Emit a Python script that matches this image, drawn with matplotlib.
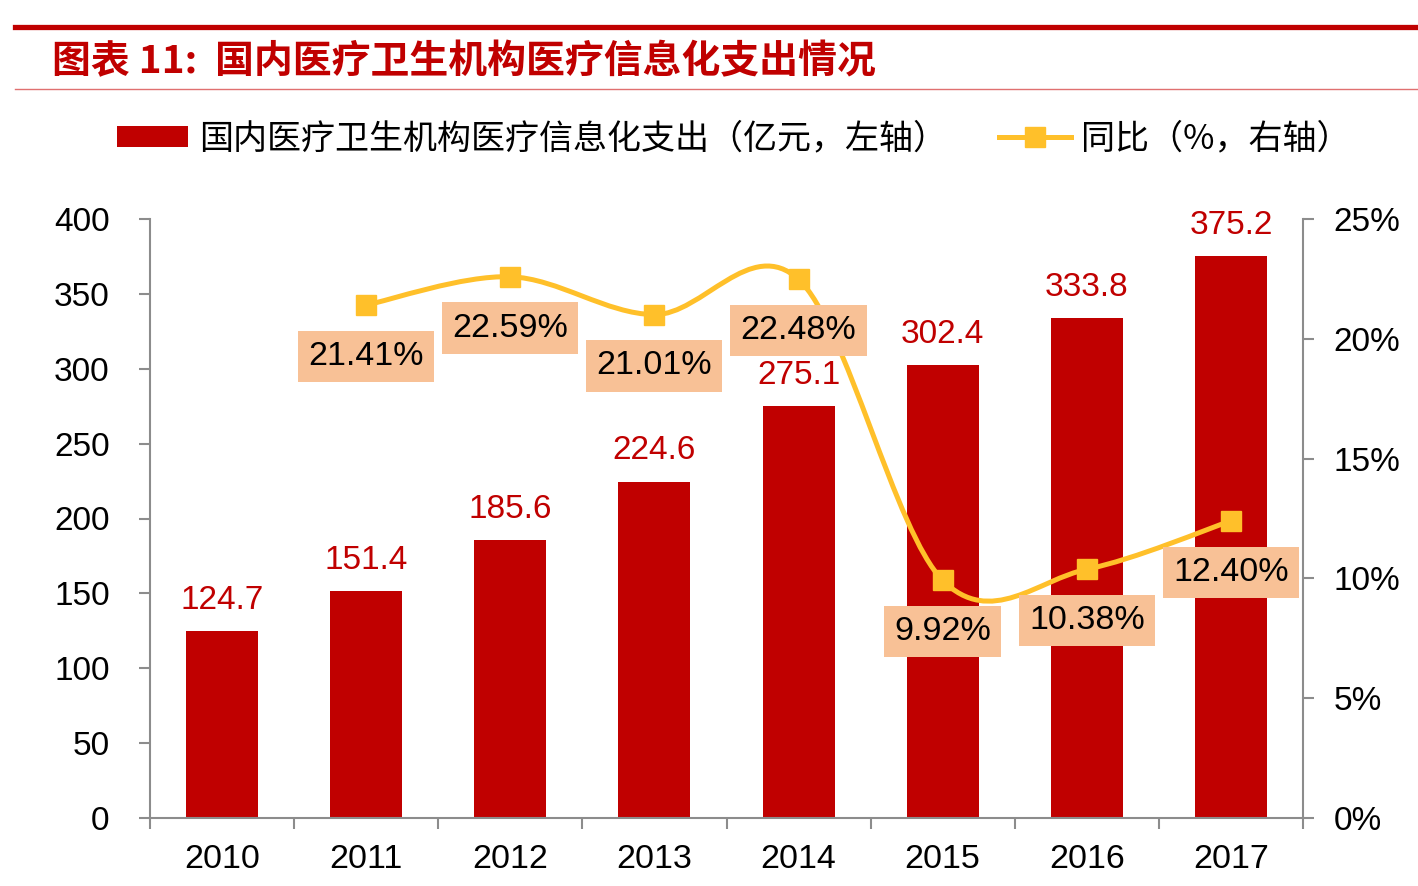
import matplotlib
matplotlib.use("Agg")
import matplotlib.pyplot as plt
from matplotlib.lines import Line2D
from matplotlib.patches import Patch, PathPatch
from matplotlib.path import Path
import numpy as np

plt.rcParams['font.family'] = ['Liberation Sans', 'Noto Sans CJK SC', 'DejaVu Sans']

# data
years = ['2010', '2011', '2012', '2013', '2014', '2015', '2016', '2017']
spend = [124.7, 151.4, 185.6, 224.6, 275.1, 302.4, 333.8, 375.2]
yoy_years = ['2011', '2012', '2013', '2014', '2015', '2016', '2017']
yoy = [21.41, 22.59, 21.01, 22.48, 9.92, 10.38, 12.40]

title = '图表 11:  国内医疗卫生机构医疗信息化支出情况'
bar_name = '国内医疗卫生机构医疗信息化支出（亿元，左轴）'
line_name = '同比（%，右轴）'

RED = '#C00000'
GOLD = '#FFC02A'
BOX = '#F8C196'
GREY = '#8C8C8C'
W, H = 1418, 886


def smooth_path(xs, ys):
	''' excel style smoothed line as bezier path '''
	pts = np.column_stack([xs, ys]).astype(float)
	n = len(pts)
	verts = [pts[0]]
	codes = [Path.MOVETO]
	for i in range(n - 1):
		p0 = pts[max(i - 1, 0)]
		p1 = pts[i]
		p2 = pts[i + 1]
		p3 = pts[min(i + 2, n - 1)]
		verts += [p1 + (p2 - p0) / 6.0, p2 - (p3 - p1) / 6.0, p2]
		codes += [Path.CURVE4] * 3
	return Path(verts, codes)


fig = plt.figure(figsize=(W / 100, H / 100), dpi=100)

# title and rules
fig.add_artist(Line2D([15 / W, 1], [1 - 26.5 / H] * 2, color=RED, lw=3.8,
                      transform=fig.transFigure))
fig.add_artist(Line2D([15 / W, 1], [1 - 88.5 / H] * 2, color='#E07070', lw=1.0,
                      transform=fig.transFigure))
fig.text(52 / W, 1 - 62 / H, title, color=RED, fontsize=28, fontweight='bold',
         style='italic', family=['Noto Sans CJK SC', 'DejaVu Sans'], va='center', ha='left')

ax = fig.add_axes([150 / W, 68 / H, 1153 / W, 599 / H])
ax2 = ax.twinx()

x = np.arange(len(years))
bars = ax.bar(x, spend, width=0.5, color=RED, zorder=2)
for xi, v in zip(x, spend):
	ax.annotate('%.1f' % v, (xi, v), xytext=(0, 16), textcoords='offset points',
	            ha='center', va='baseline', color=RED, fontsize=24)

ax.set_xlim(-0.5, len(years) - 0.5)
ax.set_ylim(0, 400)
ax.set_yticks(np.arange(0, 401, 50))
ax.set_xticks(np.arange(-0.5, len(years), 1.0))
ax.set_xticklabels([])
ax.set_xticks(x, minor=True)
ax.set_xticklabels(years, minor=True)
ax.tick_params(axis='x', which='major', length=8, width=1.5, color=GREY, direction='out')
ax.tick_params(axis='x', which='minor', length=0, pad=19, labelsize=24.5)
ax.tick_params(axis='y', length=8, width=1.5, color=GREY, pad=21, labelsize=24)

# line on right axis
xl = np.array([years.index(y) for y in yoy_years])
path = smooth_path(xl, yoy)
ax2.add_patch(PathPatch(path, facecolor='none', edgecolor=GOLD, lw=3.6, zorder=3,
                        capstyle='round'))
ax2.plot(xl, yoy, ls='none', marker='s', ms=14, color=GOLD, zorder=4)
for xi, v in zip(xl, yoy):
	ax2.annotate('%.2f%%' % v, (xi, v), xytext=(0, -37), textcoords='offset points',
	             ha='center', va='center', fontsize=24.5, zorder=6,
	             bbox=dict(boxstyle='square,pad=0.3', fc=BOX, ec='none'))
ax2.set_ylim(0, 25)
ax2.set_yticks(np.arange(0, 26, 5))
ax2.set_yticklabels(['%d%%' % t for t in np.arange(0, 26, 5)])
ax2.tick_params(axis='y', length=8, width=1.5, color=GREY, pad=14, labelsize=24)

for a in (ax, ax2):
	a.spines['top'].set_visible(False)
	for s in ('left', 'right', 'bottom'):
		a.spines[s].set_color(GREY)
		a.spines[s].set_linewidth(1.5)
ax.spines['right'].set_visible(False)
ax2.spines['left'].set_visible(False)
ax2.spines['bottom'].set_visible(False)

# legend
handles = [Patch(facecolor=RED, edgecolor='none'),
           Line2D([], [], color=GOLD, lw=3.6, marker='s', ms=14)]
fig.legend(handles, [bar_name, line_name], loc='center left',
           bbox_to_anchor=(117 / W, 1 - 139 / H), ncol=2, frameon=False,
           borderpad=0, borderaxespad=0, handlelength=2.1, handleheight=0.55,
           handletextpad=0.3, columnspacing=1.55,
           prop=dict(family=['Noto Sans CJK SC', 'DejaVu Sans'], size=24.5))

fig.savefig('out.png', dpi=100)
